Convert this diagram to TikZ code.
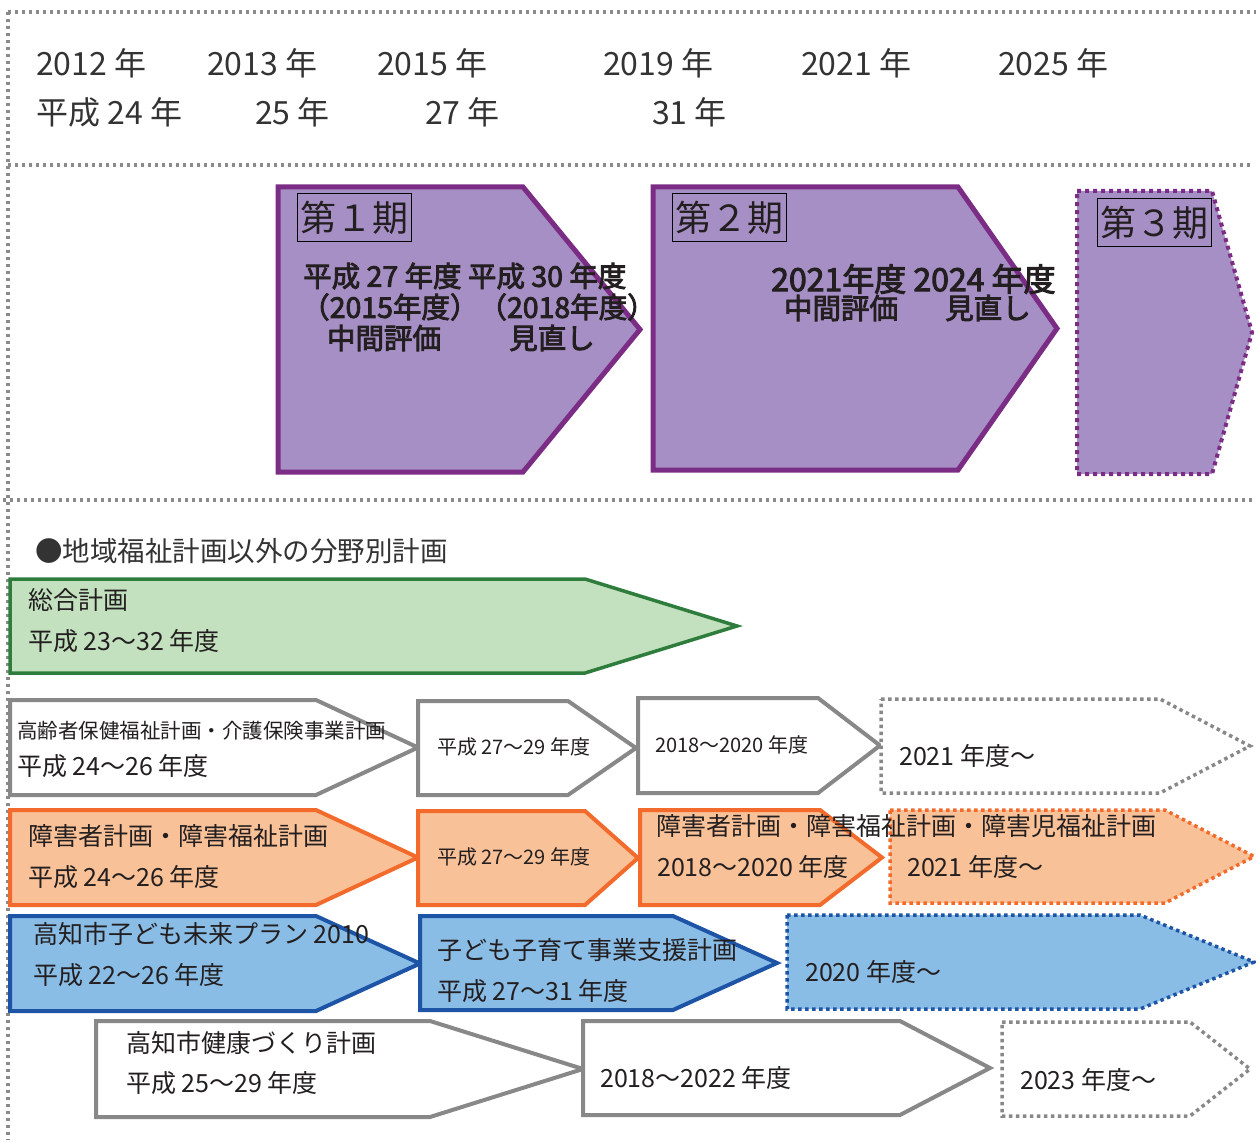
\documentclass[tikz,border=0pt]{standalone}
\usepackage{fontspec}
\setmainfont{Noto Sans CJK JP}
\newfontfamily\popfont{Noto Sans CJK JP}[FakeBold=3]
\usepackage{tikz}
\usetikzlibrary{positioning}
\definecolor{framegray}{HTML}{8A8A8A}
\definecolor{txtdark}{HTML}{231F20}
\definecolor{txtgray}{HTML}{333333}
\definecolor{phasefill}{HTML}{A68FC4}
\definecolor{phaseline}{HTML}{7B2C84}
\definecolor{greenfill}{HTML}{C3E1BF}
\definecolor{greenline}{HTML}{2E7D3C}
\definecolor{planline}{HTML}{888888}
\definecolor{orangefill}{HTML}{F9C197}
\definecolor{orangeline}{HTML}{F26B2C}
\definecolor{bluefill}{HTML}{8ABDE6}
\definecolor{blueline}{HTML}{1E54A6}
% pentagon arrow: [style]{left}{shoulder}{tip}{top}{bottom}
\newcommand{\planshape}[6][]{%
  \draw[#1] (#2,#5) -- (#3,#5) -- (#4,{(#5+#6)/2}) -- (#3,#6) -- (#2,#6) -- cycle;}

\begin{document}
\begin{tikzpicture}[x=1pt, y=-1pt,
  frame/.style={draw=framegray, line width=3.2pt, dash pattern=on 3.2pt off 3.8pt},
  phase/.style={fill=phasefill, draw=phaseline, line width=5pt},
  phasedot/.style={phase, line width=4pt, dash pattern=on 4pt off 4pt},
  plangreen/.style={fill=greenfill, draw=greenline, line width=3.5pt},
  plangray/.style={fill=white, draw=planline, line width=4pt},
  planorange/.style={fill=orangefill, draw=orangeline, line width=4pt},
  planblue/.style={fill=bluefill, draw=blueline, line width=4pt},
  dotgray/.style={plangray, line width=3.5pt, dash pattern=on 3.5pt off 3.5pt},
  dotorange/.style={planorange, line width=3.5pt, dash pattern=on 3.5pt off 3.5pt},
  dotblue/.style={planblue, line width=3.5pt, dash pattern=on 3.5pt off 3.5pt},
  yr/.style={anchor=west, inner sep=0pt, font=\fontsize{32}{36}\selectfont, text=txtgray},
  tag/.style={draw=black, line width=1.2pt, anchor=north west, inner sep=3pt,
              minimum height=48pt, font=\fontsize{36}{40}\selectfont, text=txtdark},
  pop/.style={inner sep=0pt, font=\popfont\fontsize{28.5}{32}\selectfont, text=txtdark},
  lblb/.style={anchor=west, inner sep=0pt, font=\fontsize{25}{30}\selectfont, text=txtdark},
  lbls/.style={anchor=west, inner sep=0pt, font=\fontsize{20}{24}\selectfont, text=txtdark},
]
  \useasboundingbox (0,0) rectangle (1256,1142);

  %% ── Dotted frame ─────────────────────────────────────────────────────────
  \draw[frame] (8,12) -- (1256,12);
  \draw[frame] (8,12) -- (8,1140);
  \draw[frame] (8,165) -- (1252,165);
  \draw[frame] (3,500) -- (1256,500);

  %% ── Year scale ───────────────────────────────────────────────────────────
  \node[yr] (y12) at (36,63)  {2012 年};
  \node[yr] (y13) at (207,63) {2013 年};
  \node[yr] (y15) at (377,63) {2015 年};
  \node[yr] (y19) at (603,63) {2019 年};
  \node[yr] (y21) at (801,63) {2021 年};
  \node[yr] (y25) at (998,63) {2025 年};
  \node[yr] (h24) at (36,112)  {平成 24 年};
  \node[yr] (h25) at (255,112) {25 年};
  \node[yr] (h27) at (425,112) {27 年};
  \node[yr] (h31) at (652,112) {31 年};

  %% ── Phases ───────────────────────────────────────────────────────────────
  \planshape[phase]{278}{523}{640}{187}{472}
  \planshape[phase]{653}{958}{1057}{187}{470}
  \planshape[phasedot]{1077}{1212}{1252}{191}{474}

  \node[tag] (p1) at (297,193)  {第１期};
  \node[tag] (p2) at (672,193)  {第２期};
  \node[tag] (p3) at (1097,198) {第３期};

  \node[pop, anchor=west] (p1a) at (303,276) {平成 27 年度 平成 30 年度};
  \node[pop, anchor=west] (p1b) at (301,307) {（2015年度）（2018年度）};
  \node[pop] (p1c) at (384,338) {中間評価};
  \node[pop] (p1d) at (552,338) {見直し};
  \node[pop, anchor=west, font=\popfont\fontsize{32}{35}\selectfont]
    (p2a) at (771,279) {2021年度 2024 年度};
  \node[pop] (p2c) at (841,308) {中間評価};
  \node[pop] (p2d) at (988,308) {見直し};

  %% ── Other plans ──────────────────────────────────────────────────────────
  \node[anchor=west, inner sep=0pt, font=\fontsize{27.5}{32}\selectfont, text=txtgray]
    (sec) at (35,551) {●地域福祉計画以外の分野別計画};

  % general plan
  \planshape[plangreen]{10}{585}{737}{579}{673}
  \node[lblb] (g1) at (28,600) {総合計画};
  \node[lblb] (g2) at (28,641) {平成 23～32 年度};

  % elderly
  \planshape[plangray]{10}{316}{418}{700}{795}
  \planshape[plangray]{418}{568}{636}{701}{795}
  \planshape[plangray]{638}{818}{880}{698}{793}
  \planshape[dotgray]{881}{1160}{1250}{699}{793}
  \node[lbls, font=\fontsize{20.5}{24}\selectfont] (e1) at (17,731) {高齢者保健福祉計画・介護保険事業計画};
  \node[lblb] (e2) at (17,766) {平成 24～26 年度};
  \node[lbls] (e3) at (437,747) {平成 27～29 年度};
  \node[lbls] (e4) at (655,745) {2018～2020 年度};
  \node[lblb] (e5) at (899,756) {2021 年度～};

  % disability
  \planshape[planorange]{10}{316}{418}{810}{905}
  \planshape[planorange]{418}{585}{638}{811}{905}
  \planshape[planorange]{640}{820}{882}{810}{905}
  \planshape[dotorange]{890}{1165}{1254}{810}{903}
  \node[lblb] (d1) at (28,836)  {障害者計画・障害福祉計画};
  \node[lblb] (d2) at (28,877)  {平成 24～26 年度};
  \node[lbls] (d3) at (437,857) {平成 27～29 年度};
  \node[lblb] (d4) at (656,826) {障害者計画・障害福祉計画・障害児福祉計画};
  \node[lblb] (d5) at (657,867) {2018～2020 年度};
  \node[lblb] (d6) at (907,867) {2021 年度～};

  % children
  \planshape[planblue]{10}{316}{420}{916}{1011}
  \planshape[planblue]{420}{673}{777}{916}{1010}
  \planshape[dotblue]{787}{1140}{1254}{915}{1009}
  \node[lblb] (c1) at (33,934)  {高知市子ども未来プラン 2010};
  \node[lblb] (c2) at (33,975)  {平成 22～26 年度};
  \node[lblb] (c3) at (437,950) {子ども子育て事業支援計画};
  \node[lblb] (c4) at (437,991) {平成 27～31 年度};
  \node[lblb] (c5) at (805,972) {2020 年度～};

  % health
  \planshape[plangray]{96}{430}{583}{1021}{1117}
  \planshape[plangray]{583}{900}{990}{1021}{1115}
  \planshape[dotgray]{1002}{1190}{1250}{1022}{1116}
  \node[lblb] (k1) at (126,1043) {高知市健康づくり計画};
  \node[lblb] (k2) at (126,1083) {平成 25～29 年度};
  \node[lblb] (k3) at (600,1078) {2018～2022 年度};
  \node[lblb] (k4) at (1020,1080) {2023 年度～};

\end{tikzpicture}
\end{document}
